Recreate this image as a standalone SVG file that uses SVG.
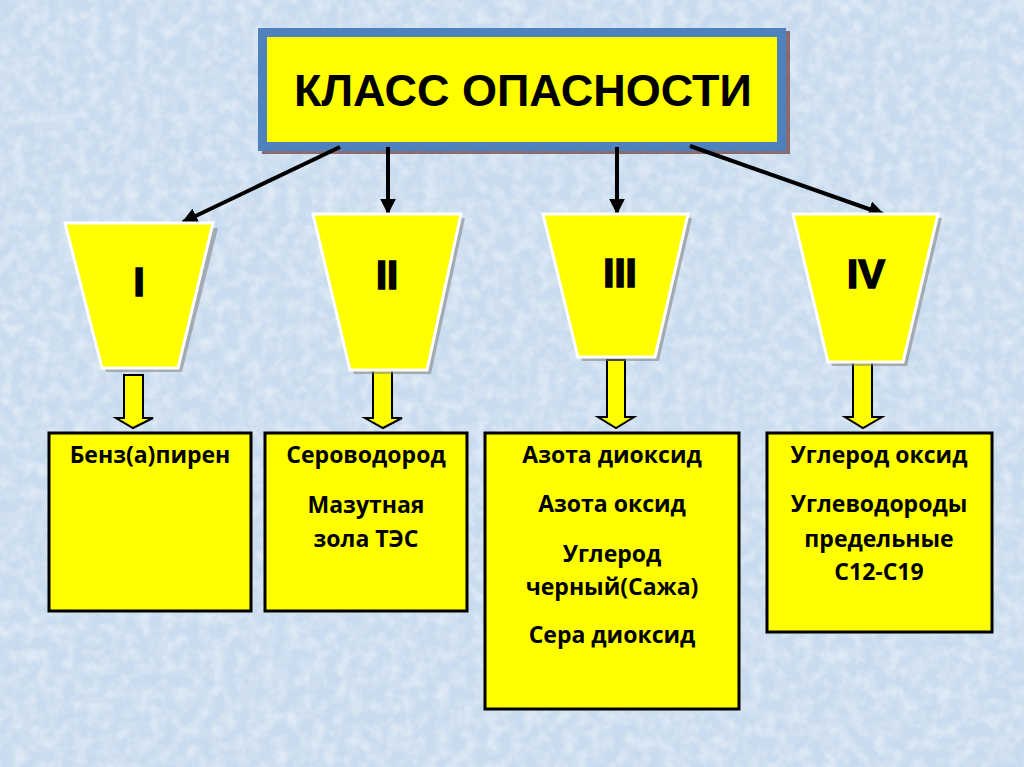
<svg xmlns="http://www.w3.org/2000/svg" width="1024" height="767" viewBox="0 0 1024 767">
<defs>
  <filter id="tex" x="0" y="0" width="100%" height="100%">
    <feTurbulence type="fractalNoise" baseFrequency="0.08" numOctaves="3" seed="4" result="n"/>
    <feColorMatrix in="n" type="matrix" values="0 0 0 0 1  0 0 0 0 1  0 0 0 0 1  0 0 0 0.8 -0.3" result="w"/>
    <feComposite in="w" in2="SourceGraphic" operator="over"/>
  </filter>
  <marker id="ah" viewBox="0 0 10 10" refX="9" refY="5" markerWidth="4" markerHeight="4" orient="auto" markerUnits="strokeWidth">
    <path d="M0,0 L10,5 L0,10 Z" fill="#000"/>
  </marker>
  <style>
    .trap{fill:#ffff00;stroke:#ffffff;stroke-width:3;stroke-linejoin:miter}
    .shadow{fill:#7f7f7f;opacity:0.55}
    .rn{font-family:"Liberation Sans",Arial,sans-serif;font-weight:bold;font-size:40px;fill:#000;stroke:#000;stroke-width:1.6;text-anchor:middle}
    .box{fill:#ffff00;stroke:#000;stroke-width:3}
    .bt{font-family:"Open Sans","Noto Sans",sans-serif;font-weight:bold;font-size:23px;fill:#000;text-anchor:middle}
    .conn line{stroke:#000;stroke-width:4}
    .blk{fill:#ffff00;stroke:#000;stroke-width:2;stroke-linejoin:miter}
  </style>
</defs>
<rect x="0" y="0" width="1024" height="767" fill="#c9dcef" filter="url(#tex)"/>

<g id="top">
  <rect x="262" y="31" width="528" height="123" fill="#6b3a3a" opacity="0.7"/>
  <rect x="258" y="28" width="528" height="123" fill="#4f81bd"/>
  <rect x="267" y="37" width="510" height="105" fill="#ffff00"/>
  <text x="523" y="106" font-family="'Liberation Sans',Arial,sans-serif" font-weight="bold" font-size="45" text-anchor="middle" fill="#000">КЛАСС ОПАСНОСТИ</text>
</g>

<g class="conn" id="connectors">
  <line x1="340" y1="147" x2="183" y2="222" marker-end="url(#ah)"/>
  <line x1="388" y1="147" x2="388" y2="213" marker-end="url(#ah)"/>
  <line x1="617" y1="147" x2="617" y2="213" marker-end="url(#ah)"/>
  <line x1="690" y1="146" x2="883" y2="214" marker-end="url(#ah)"/>
  <path class="blk" d="M124,375 L143,375 L143,418 L153,418 L133,428 L116,418 L124,418 Z"/>
  <path class="blk" d="M373,369 L392,369 L392,418 L402,418 L383,428 L365,418 L373,418 Z"/>
  <path class="blk" d="M607,360 L625,360 L625,417 L634,417 L616,428 L598,417 L607,417 Z"/>
  <path class="blk" d="M853,360 L872,360 L872,417 L882,417 L863,428 L845,417 L853,417 Z"/>
</g>

<g id="class1">
  <polygon class="shadow" points="69,228 218,228 182,372 106,372"/>
  <polygon class="trap" points="65,223 213,223 178,368 102,368"/>
  <text class="rn" x="139" y="296">I</text>
</g>
<g id="class2">
  <polygon class="shadow" points="317,218 465,218 431,374 354,374"/>
  <polygon class="trap" points="313,214 461,214 427,370 350,370"/>
  <text class="rn" x="387" y="289">II</text>
</g>
<g id="class3">
  <polygon class="shadow" points="547,218 692,218 659,361 582,361"/>
  <polygon class="trap" points="543,214 688,214 655,357 578,357"/>
  <text class="rn" x="620" y="287">III</text>
</g>
<g id="class4">
  <polygon class="shadow" points="797,218 942,218 907,366 832,366"/>
  <polygon class="trap" points="793,214 938,214 903,362 828,362"/>
  <text class="rn" x="866" y="288">IV</text>
</g>

<g id="box1">
  <rect class="box" x="49" y="433" width="202" height="178"/>
  <text class="bt" x="150" y="463">Бенз(а)пирен</text>
</g>
<g id="box2">
  <rect class="box" x="265" y="433" width="202" height="178"/>
  <text class="bt" x="366" y="463">Сероводород</text>
  <text class="bt" x="366" y="513">Мазутная</text>
  <text class="bt" x="366" y="547">зола ТЭС</text>
</g>
<g id="box3">
  <rect class="box" x="485" y="433" width="254" height="276"/>
  <text class="bt" x="612" y="463">Азота диоксид</text>
  <text class="bt" x="612" y="512">Азота оксид</text>
  <text class="bt" x="612" y="562">Углерод</text>
  <text class="bt" x="612" y="595">черный(Сажа)</text>
  <text class="bt" x="612" y="643">Сера диоксид</text>
</g>
<g id="box4">
  <rect class="box" x="767" y="433" width="225" height="199"/>
  <text class="bt" x="879" y="463">Углерод оксид</text>
  <text class="bt" x="879" y="512">Углеводороды</text>
  <text class="bt" x="879" y="547">предельные</text>
  <text class="bt" x="879" y="580">С12-С19</text>
</g>
</svg>
